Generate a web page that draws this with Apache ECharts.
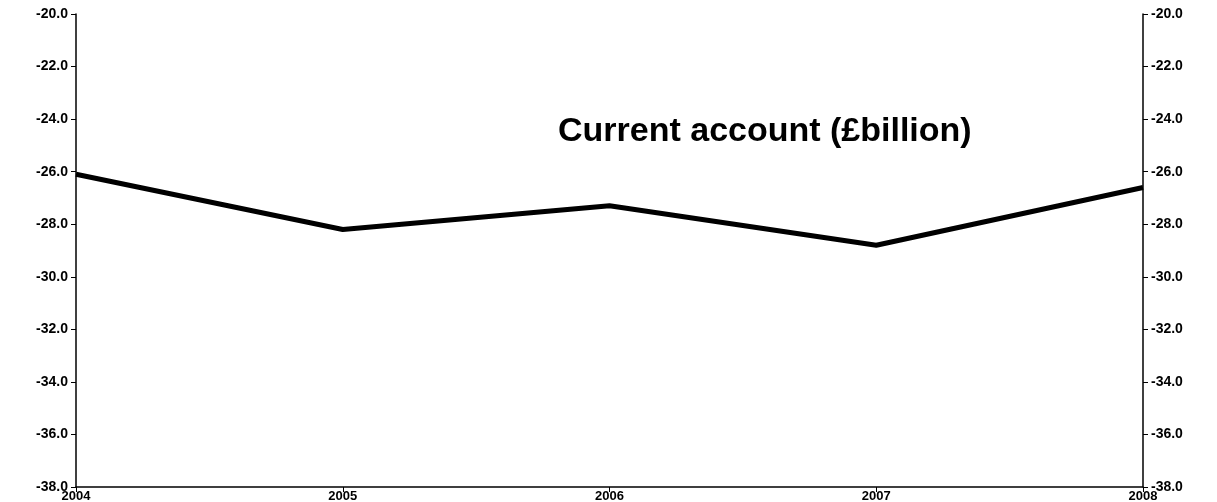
<!DOCTYPE html>
<html>
<head>
<meta charset="utf-8">
<script src="https://cdn.jsdelivr.net/npm/echarts@6/dist/echarts.min.js"></script>
<style>
html,body{margin:0;padding:0;background:#fff;}
#chart{width:1217px;height:502px;}
</style>
</head>
<body>
<div id="chart"></div>
<script>
var years = ['2004', '2005', '2006', '2007', '2008'];
var currentAccount = [-26.1, -28.2, -27.3, -28.8, -26.6];

var chart = echarts.init(document.getElementById('chart'));
var yAxisBase = {
    type: 'value',
    min: -38,
    max: -20,
    interval: 2,
    axisLine: {show: true, lineStyle: {color: '#000', width: 1.5}},
    axisTick: {show: true, inside: false, length: 5, lineStyle: {color: '#000'}},
    axisLabel: {
        color: '#000', fontWeight: 'bold', fontSize: 14, fontFamily: 'Arial, Liberation Sans',
        formatter: function (v) { return v.toFixed(1); }
    },
    splitLine: {show: false}
};
var option = {
    backgroundColor: '#fff',
    animation: false,
    title: {
        text: 'Current account (£billion)',
        left: 553, top: 110,
        textStyle: {fontSize: 34, fontWeight: 'bold', color: '#000', fontFamily: 'Arial, Liberation Sans'}
    },
    grid: {left: 76, right: 74, top: 14, bottom: 15, containLabel: false, outerBoundsMode: 'none'},
    xAxis: {
        type: 'category',
        data: years,
        boundaryGap: false,
        axisLine: {show: true, onZero: false, lineStyle: {color: '#000', width: 1.5}},
        axisTick: {show: true, length: 5, lineStyle: {color: '#000'}},
        axisLabel: {color: '#000', fontWeight: 'bold', fontSize: 13, margin: 3, fontFamily: 'Arial, Liberation Sans'}
    },
    yAxis: [
        Object.assign({}, yAxisBase, {position: 'left'}),
        Object.assign({}, yAxisBase, {position: 'right'})
    ],
    series: [{
        type: 'line',
        data: currentAccount,
        symbol: 'none',
        lineStyle: {color: '#000', width: 5}
    }]
};
chart.setOption(option);
</script>
</body>
</html>
